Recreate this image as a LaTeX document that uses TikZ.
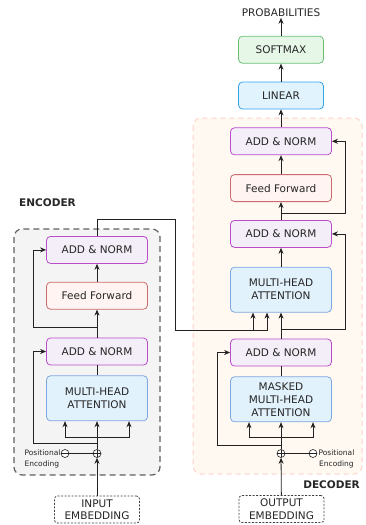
\documentclass[tikz,border=0pt]{standalone}
\usepackage{fontspec}
\setmainfont{DejaVu Sans}
\usepackage{tikz}
\usetikzlibrary{positioning,arrows.meta,calc}

\definecolor{normline}{HTML}{BB4CCB}
\definecolor{normfill}{HTML}{F3EEF7}
\definecolor{ffline}{HTML}{CC6B6B}
\definecolor{fffill}{HTML}{FFF4F2}
\definecolor{mhaline}{HTML}{7EA6E0}
\definecolor{mhafill}{HTML}{E2F2FC}
\definecolor{linline}{HTML}{33A3EE}
\definecolor{linfill}{HTML}{E1F3FD}
\definecolor{smline}{HTML}{6BBF75}
\definecolor{smfill}{HTML}{E6F7E8}
\definecolor{encline}{HTML}{5F5F5F}
\definecolor{encfill}{HTML}{F4F4F4}
\definecolor{decline}{HTML}{FFD2CA}
\definecolor{decfill}{HTML}{FFF9F2}
\definecolor{wire}{HTML}{222222}

\begin{document}
\begin{tikzpicture}[x=1pt, y=-1pt,
    node distance=18pt,
    every node/.style={font=\fontsize{10.5}{13}\selectfont, text=black!85},
    block/.style={rectangle, draw, rounded corners=4pt, line width=0.8pt, minimum width=101pt, minimum height=27pt, align=center, inner sep=2pt},
    norm/.style={block, draw=normline, fill=normfill},
    ffn/.style={block, draw=ffline, fill=fffill},
    attn/.style={block, draw=mhaline, fill=mhafill, minimum height=45pt},
    linear/.style={block, draw=linline, fill=linfill, minimum width=85pt},
    softmax/.style={block, draw=smline, fill=smfill, minimum width=85pt},
    embed/.style={block, draw=black!75, fill=white, minimum width=85pt, rounded corners=3pt, dash pattern=on 2pt off 1.5pt, font=\fontsize{10.5}{12.5}\selectfont},
    plus/.style={circle, draw=wire, fill=white, minimum size=8pt, inner sep=0pt, line width=0.6pt,
        path picture={\draw[line width=0.6pt] (path picture bounding box.north) -- (path picture bounding box.south)
            (path picture bounding box.west) -- (path picture bounding box.east);}},
    minus/.style={circle, draw=wire, fill=white, minimum size=8pt, inner sep=0pt, line width=0.6pt,
        path picture={\draw[line width=0.6pt] (path picture bounding box.west) -- (path picture bounding box.east);}},
    pelabel/.style={font=\fontsize{7.5}{10.5}\selectfont, inner sep=0pt},
    title/.style={font=\bfseries\fontsize{10.5}{13}\selectfont, inner sep=0pt},
    arrow/.style={draw=wire, line width=0.8pt, -{Stealth[length=6pt,width=5pt]}},
    link/.style={draw=wire, line width=0.8pt}
]
    \useasboundingbox (0,0) rectangle (366,525);

    % background boxes
    \draw[encline, fill=encfill, line width=1.2pt, dash pattern=on 6pt off 4pt, rounded corners=8pt] (14,229) rectangle (160,475);
    \draw[decline, fill=decfill, line width=1pt, dash pattern=on 5pt off 4pt, rounded corners=8pt] (193,118) rectangle (362,474);
    \node[title, anchor=west] (enclabel) at (19,203) {ENCODER};
    \node[title, anchor=east] (declabel) at (360,485) {DECODER};

    % encoder
    \node[embed] (eninp) at (97,509.5) {INPUT\\EMBEDDING};
    \node[plus] (enplus) at (97,453.5) {};
    \node[minus] (enpe) at (65,453.5) {};
    \node[pelabel, left=0pt of enpe.west, anchor=north east, yshift=3.5pt, align=left] (enpetext) {Positional\\Encoding};
    \node[attn, above=28pt of enplus] (enmha) {MULTI-HEAD\\ATTENTION};
    \node[norm, above=10pt of enmha] (ennorm1) {ADD \& NORM};
    \node[ffn, above=28pt of ennorm1] (enff) {Feed Forward};
    \node[norm, above=18pt of enff] (ennorm2) {ADD \& NORM};

    % decoder
    \node[embed] (deinp) at (281.5,509) {OUTPUT\\EMBEDDING};
    \node[plus] (deplus) at (281,453.5) {};
    \node[minus] (depe) at (313,453.5) {};
    \node[pelabel, right=1pt of depe.east, anchor=north west, yshift=3.5pt, align=center] (depetext) {Positional\\Encoding};
    \node[attn, above=27pt of deplus] (demmha) {MASKED\\MULTI-HEAD\\ATTENTION};
    \node[norm, above=10pt of demmha] (denorm1) {ADD \& NORM};
    \node[attn, above=26pt of denorm1] (demha) {MULTI-HEAD\\ATTENTION};
    \node[norm, above=19pt of demha] (denorm2) {ADD \& NORM};
    \node[ffn, above=18pt of denorm2] (deff) {Feed Forward};
    \node[norm, above=19pt of deff] (denorm3) {ADD \& NORM};
    \node[linear, above=18pt of denorm3] (lin) {LINEAR};
    \node[softmax, above=18pt of lin] (soft) {SOFTMAX};
    \node[above=18pt of soft, inner sep=1pt] (prob) {PROBABILITIES};

    % encoder wires
    \draw[arrow] (eninp) -- (enplus);
    \draw[link] (enpe) -- (enplus);
    \draw[arrow] (enplus) -- (enmha);
    \coordinate (enfork) at ($(enmha.south)+(0,16)$);
    \coordinate (enres1) at ($(enmha.south)+(0,22)$);
    \draw[arrow] (enfork) -| ($(enmha.south)+(-32,0)$);
    \draw[arrow] (enfork) -| ($(enmha.south)+(32,0)$);
    \draw[arrow] (enres1) -- ++(-64,0) |- (ennorm1.west);
    \draw[link] (enmha) -- (ennorm1);
    \draw[arrow] (ennorm1) -- (enff);
    \coordinate (enres2) at ($(ennorm1.north)+(0,-10)$);
    \draw[arrow] (enres2) -- ++(-64,0) |- (ennorm2.west);
    \draw[arrow] (enff) -- (ennorm2);

    % encoder to decoder
    \coordinate (enctop) at (175,219);
    \draw[arrow] (ennorm2.north) |- (enctop) |- ($(demha.south)+(-14,18)$) -- ($(demha.south)+(-14,0)$);
    \draw[arrow] ($(demha.south)+(-28,18)$) -- ($(demha.south)+(-28,0)$);

    % decoder wires
    \draw[arrow] (deinp) -- (deplus);
    \draw[link] (depe) -- (deplus);
    \draw[arrow] (deplus) -- (demmha);
    \coordinate (defork) at ($(demmha.south)+(0,15)$);
    \coordinate (deres0) at ($(demmha.south)+(0,23)$);
    \draw[arrow] (defork) -| ($(demmha.south)+(-32,0)$);
    \draw[arrow] (defork) -| ($(demmha.south)+(32,0)$);
    \draw[arrow] (deres0) -- ++(-64,0) |- (denorm1.west);
    \draw[link] (demmha) -- (denorm1);
    \draw[arrow] (denorm1) -- (demha);
    \coordinate (deres1) at ($(demha.south)+(0,17)$);
    \draw[arrow] (deres1) -- ++(64,0) |- (denorm2.east);
    \draw[arrow] (demha) -- (denorm2);
    \draw[arrow] (denorm2) -- (deff);
    \coordinate (deres2) at ($(denorm2.north)+(0,-7)$);
    \draw[arrow] (deres2) -- ++(64,0) |- (denorm3.east);
    \draw[arrow] (deff) -- (denorm3);
    \draw[arrow] (denorm3) -- (lin);
    \draw[arrow] (lin) -- (soft);
    \draw[arrow] (soft) -- (prob);
\end{tikzpicture}
\end{document}
